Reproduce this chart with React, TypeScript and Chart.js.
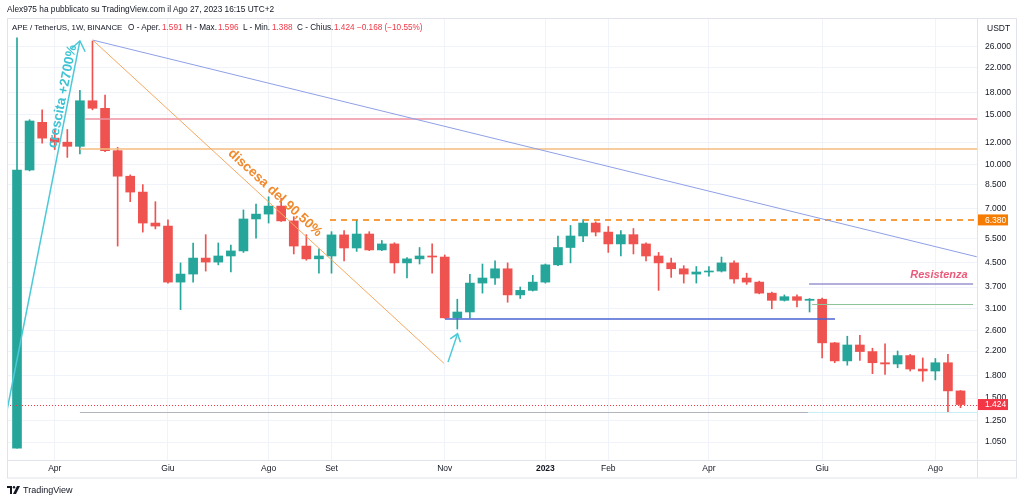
import React, { useEffect, useRef } from "react";
import { Chart, registerables } from "chart.js";

Chart.register(...registerables);

// ---- weekly candles APE/USDT (Mar 14 2022 -> Aug 21 2023) ----
const OPEN = [
  1.0, 9.57, 14.1, 12.4, 12.0, 11.6, 16.8, 15.8, 11.2, 9.1,
  8.0, 6.22, 6.07, 3.85, 4.11, 4.68, 4.53, 4.76, 4.96, 6.43,
  6.69, 7.14, 6.33, 5.16, 4.65, 4.76, 5.65, 5.08, 5.69, 5.0,
  5.25, 4.5, 4.65, 4.76, 4.72, 2.88, 3.02, 3.82, 3.98, 4.29,
  3.47, 3.6, 3.85, 4.43, 5.1, 5.6, 6.22, 5.78, 5.25, 5.66,
  5.25, 4.76, 4.5, 4.29, 4.11, 4.18, 4.21, 4.5, 3.98, 3.85,
  3.52, 3.32, 3.42, 3.32, 3.35, 2.35, 2.03, 2.31, 2.19, 2.0,
  1.98, 2.12, 1.9, 1.87, 2.0, 1.591,
];
const HIGH = [
  28.0, 14.4, 15.6, 13.2, 13.3, 18.3, 27.3, 17.6, 11.5, 9.2,
  8.5, 7.4, 6.38, 4.5, 5.29, 5.66, 5.29, 5.2, 6.92, 7.26,
  7.7, 7.6, 6.55, 5.66, 5.05, 5.8, 5.85, 6.38, 5.8, 5.4,
  5.3, 4.7, 5.1, 5.25, 4.8, 3.35, 4.1, 4.46, 4.58, 4.5,
  3.7, 4.07, 4.46, 5.6, 6.1, 6.4, 6.28, 6.05, 5.85, 5.95,
  5.3, 4.9, 4.68, 4.4, 4.37, 4.37, 4.72, 4.58, 4.14, 3.88,
  3.55, 3.47, 3.47, 3.37, 3.38, 2.36, 2.48, 2.5, 2.25, 2.33,
  2.2, 2.14, 2.08, 2.07, 2.14, 1.596,
];
const LOW = [
  1.0, 9.5, 11.9, 11.3, 10.6, 10.9, 15.6, 11.1, 5.16, 7.4,
  5.78, 5.93, 3.82, 3.08, 3.85, 4.21, 4.43, 4.18, 4.9, 5.5,
  6.22, 6.3, 4.84, 4.6, 4.14, 4.14, 4.57, 4.94, 4.97, 4.97,
  4.14, 3.98, 4.46, 4.14, 2.87, 2.63, 2.88, 3.52, 3.78, 3.27,
  3.37, 3.58, 3.82, 4.4, 4.5, 5.35, 5.6, 4.9, 4.76, 4.84,
  4.57, 3.6, 4.0, 3.82, 3.82, 4.04, 4.18, 3.82, 3.78, 3.5,
  3.1, 3.3, 3.15, 3.02, 2.08, 2.0, 1.96, 2.04, 1.83, 1.82,
  1.92, 1.87, 1.72, 1.74, 1.34, 1.388,
];
const CLOSE = [
  9.57, 14.25, 12.4, 12.0, 11.6, 16.8, 15.8, 11.2, 9.1, 8.0,
  6.22, 6.07, 3.85, 4.11, 4.68, 4.53, 4.76, 4.96, 6.43, 6.69,
  7.14, 6.33, 5.16, 4.65, 4.76, 5.65, 5.08, 5.69, 5.0, 5.25,
  4.5, 4.65, 4.76, 4.72, 2.88, 3.02, 3.82, 3.98, 4.29, 3.47,
  3.6, 3.85, 4.43, 5.1, 5.6, 6.22, 5.78, 5.25, 5.66, 5.25,
  4.76, 4.5, 4.29, 4.11, 4.18, 4.21, 4.5, 3.95, 3.85, 3.52,
  3.32, 3.42, 3.32, 3.35, 2.35, 2.03, 2.31, 2.19, 2.0, 1.98,
  2.12, 1.9, 1.87, 2.0, 1.591, 1.424,
];

const MONTH_IDX = [3, 12, 20, 25, 34, 42, 47, 55, 64, 73];
const MONTH_LABELS = ["Apr", "Giu", "Ago", "Set", "Nov", "2023", "Feb", "Apr", "Giu", "Ago"];
const Y_TICKS = [1.05, 1.25, 1.5, 1.8, 2.2, 2.6, 3.1, 3.7, 4.5, 5.5, 7, 8.5, 10, 12, 15, 18, 22, 26];

const X_MIN = -0.795;
const X_MAX = 76.31;
const Y_MIN = 0.9076;
const Y_MAX = 32.9;

// ---- drawings (in data units: week index, price) ----
// horizontal levels: [fromIndex, toIndex, price]
const LEVEL_RED = [5.41, X_MAX, 14.45];
const LEVEL_ORANGE = [5.0, X_MAX, 11.35];
const LEVEL_DASHED = [24.88, X_MAX, 6.38];
const LEVEL_SUPPORT = [34.02, 65.02, 2.85];
const LEVEL_RESIST = [62.96, 76.0, 3.79];
const LEVEL_GREEN = [63.2, 76.0, 3.22];
const LEVEL_GRAY = [5.0, 62.88, 1.34];
const LEVEL_GRAY_EXT = [62.88, X_MAX, 1.34];
const LEVEL_LAST = [X_MIN, X_MAX, 1.424];
// segments: [i1, p1, i2, p2]
const TREND_BLUE = [6.02, 27.5, 76.29, 4.73];
const TREND_ORANGE = [6.02, 27.5, 33.94, 1.99];
const ARROW_UP = [-0.82, 1.34, 5.0, 27.3];
const ARROW_SMALL = [34.26, 2.01, 35.02, 2.53];
// texts: [index, price]
const TXT_CRESCITA = [3.62, 17.4];
const TXT_DISCESA = [20.51, 7.94];
const TXT_RESIST = [75.57, 4.08];

const UP = "#26a69a";
const DOWN = "#ef5350";
const FONT = '"Liberation Sans", Arial, sans-serif';

const idx = OPEN.map((_, i) => i);
const candleColors = idx.map((i) => (CLOSE[i] >= OPEN[i] ? UP : DOWN));

const overlay = {
  id: "overlay",
  beforeDraw(chart: any) {
    const c = chart.ctx;
    c.save();
    c.fillStyle = "#ffffff";
    c.fillRect(0, 0, chart.width, chart.height);
    c.restore();
  },
  afterDatasetsDraw(chart: any) {
    const c = chart.ctx;
    const xs = chart.scales.x;
    const ys = chart.scales.y;
    const a = chart.chartArea;
    const X = (v: number) => xs.getPixelForValue(v);
    const Y = (v: number) => ys.getPixelForValue(v);
    c.save();
    c.beginPath();
    c.rect(a.left, a.top, a.right - a.left, a.bottom - a.top);
    c.clip();

    const hline = (l: number[], color: string, w: number, dash: number[] = []) => {
      c.beginPath();
      c.setLineDash(dash);
      c.strokeStyle = color;
      c.lineWidth = w;
      const y = Math.round(Y(l[2])) + (w === 1 ? 0.5 : 0);
      c.moveTo(X(l[0]), y);
      c.lineTo(X(l[1]), y);
      c.stroke();
      c.setLineDash([]);
    };
    const seg = (s: number[], color: string, w: number) => {
      c.beginPath();
      c.strokeStyle = color;
      c.lineWidth = w;
      c.moveTo(X(s[0]), Y(s[1]));
      c.lineTo(X(s[2]), Y(s[3]));
      c.stroke();
    };
    const head = (s: number[], color: string, w: number, len: number, spread: number) => {
      const x1 = X(s[0]), y1 = Y(s[1]), x2 = X(s[2]), y2 = Y(s[3]);
      const ang = Math.atan2(y2 - y1, x2 - x1);
      c.beginPath();
      c.strokeStyle = color;
      c.lineWidth = w;
      c.moveTo(x2 - len * Math.cos(ang - spread), y2 - len * Math.sin(ang - spread));
      c.lineTo(x2, y2);
      c.lineTo(x2 - len * Math.cos(ang + spread), y2 - len * Math.sin(ang + spread));
      c.stroke();
    };
    const angleOf = (s: number[]) => Math.atan2(Y(s[3]) - Y(s[1]), X(s[2]) - X(s[0]));
    const text = (t: string, p: number[], ang: number, font: string, color: string, align: CanvasTextAlign = "center") => {
      c.save();
      c.translate(X(p[0]), Y(p[1]));
      c.rotate(ang);
      c.font = font;
      c.fillStyle = color;
      c.textAlign = align;
      c.textBaseline = "middle";
      c.fillText(t, 0, 0);
      c.restore();
    };

    hline(LEVEL_LAST, "#f23645", 1, [1, 2]);
    hline(LEVEL_RED, "#ec93a3", 1.5);
    hline(LEVEL_ORANGE, "#f5bd80", 1.5);
    hline(LEVEL_DASHED, "#f57c00", 1.5, [6, 5]);
    hline(LEVEL_GRAY, "#b2b5be", 1);
    hline(LEVEL_GRAY_EXT, "#c9edf2", 1);
    hline(LEVEL_SUPPORT, "#4a63d3", 1.5);
    hline(LEVEL_RESIST, "#9a95d2", 1.5);
    hline(LEVEL_GREEN, "#8fc49b", 1);

    seg(TREND_BLUE, "#8fa0e6", 1);
    seg(TREND_ORANGE, "#f6a962", 1);
    seg(ARROW_UP, "#4cc9d8", 1.5);
    head(ARROW_UP, "#4cc9d8", 1.5, 12, 0.65);
    seg(ARROW_SMALL, "#4cc9d8", 1.5);
    head(ARROW_SMALL, "#4cc9d8", 1.5, 9, 0.65);

    text("crescita +2700%", TXT_CRESCITA, angleOf(ARROW_UP), `bold 13.5px ${FONT}`, "#3fc3d3");
    text("discesa del 90,50%", TXT_DISCESA, angleOf(TREND_ORANGE), `bold 13.5px ${FONT}`, "#f08a2c");
    text("Resistenza", TXT_RESIST, 0, `italic bold 11px ${FONT}`, "#ea5a7b", "right");
    c.restore();
  },
  afterDraw(chart: any) {
    const c = chart.ctx;
    const ys = chart.scales.y;
    const a = chart.chartArea;
    c.save();
    c.strokeStyle = "#e0e3eb";
    c.lineWidth = 1;
    c.strokeRect(7.5, 18.5, 1009, 459.5);
    c.beginPath();
    c.moveTo(Math.round(a.right) + 0.5, a.top);
    c.lineTo(Math.round(a.right) + 0.5, 478);
    c.moveTo(7, Math.round(a.bottom) + 0.5);
    c.lineTo(1017, Math.round(a.bottom) + 0.5);
    c.stroke();

    const box = (v: number, bg: string, label: string) => {
      const y = ys.getPixelForValue(v);
      c.fillStyle = bg;
      c.fillRect(a.right + 1, y - 5.5, 30, 11);
      c.fillStyle = "#ffffff";
      c.font = `8.5px ${FONT}`;
      c.textAlign = "left";
      c.textBaseline = "middle";
      c.fillText(label, a.right + 8, y + 0.5);
    };
    box(6.38, "#f57c00", "6.380");
    box(1.424, "#f23645", "1.424");
    c.restore();
  },
};

export default function App() {
  const ref = useRef<HTMLCanvasElement>(null);

  useEffect(() => {
    if (!ref.current) return;
    const chart = new Chart(ref.current, {
      type: "bar",
      data: {
        datasets: [
          {
            label: "body",
            data: idx.map((i) => ({ x: i, y: [OPEN[i], CLOSE[i]] })) as any,
            backgroundColor: candleColors,
            borderWidth: 0,
            barThickness: 9,
            minBarLength: 1,
            grouped: false,
            order: 1,
          } as any,
          {
            label: "wick",
            data: idx.map((i) => ({ x: i, y: [LOW[i], HIGH[i]] })) as any,
            backgroundColor: candleColors,
            borderWidth: 0,
            barThickness: 1,
            grouped: false,
            order: 2,
          } as any,
        ],
      },
      options: {
        animation: false,
        responsive: false,
        maintainAspectRatio: false,
        layout: { padding: { left: 7, top: 18, right: 7, bottom: 24 } },
        plugins: { legend: { display: false }, tooltip: { enabled: false } },
        scales: {
          x: {
            type: "linear",
            min: X_MIN,
            max: X_MAX,
            offset: false,
            afterBuildTicks: (s: any) => {
              s.ticks = MONTH_IDX.map((v) => ({ value: v }));
            },
            afterFit: (s: any) => {
              s.height = 18;
            },
            grid: { color: "#f0f3fa", drawTicks: false, offset: false },
            border: { display: false },
            ticks: {
              autoSkip: false,
              maxRotation: 0,
              padding: 4,
              color: "#131722",
              font: (ctx: any) => ({
                family: FONT,
                size: 8.5,
                weight: ctx.tick && ctx.tick.value === 42 ? "bold" : "normal",
              }),
              callback: (v: any) => {
                const k = MONTH_IDX.indexOf(Number(v));
                return k >= 0 ? MONTH_LABELS[k] : "";
              },
            },
          },
          y: {
            type: "logarithmic",
            position: "right",
            min: Y_MIN,
            max: Y_MAX,
            afterBuildTicks: (s: any) => {
              s.ticks = Y_TICKS.map((v) => ({ value: v }));
            },
            afterFit: (s: any) => {
              s.width = 40;
            },
            grid: { color: "#f0f3fa", drawTicks: false },
            border: { display: false },
            ticks: {
              padding: 8,
              color: "#131722",
              font: { family: FONT, size: 8.5 },
              callback: (v: any) => Number(v).toFixed(3),
            },
          },
        },
      } as any,
      plugins: [overlay],
    });
    return () => chart.destroy();
  }, []);

  const red = "#f23645";
  const abs = (left: number, top: number, extra: any = {}) => ({
    position: "absolute" as const,
    left,
    top,
    whiteSpace: "nowrap" as const,
    ...extra,
  });

  return (
    <div
      style={{
        position: "fixed",
        left: 0,
        top: 0,
        width: 1024,
        height: 502,
        background: "#ffffff",
        fontFamily: FONT,
        color: "#131722",
        overflow: "hidden",
      }}
    >
      <canvas ref={ref} width={1024} height={502} style={{ position: "absolute", left: 0, top: 0, width: 1024, height: 502 }} />
      <div style={abs(7, 4, { fontSize: 8.3 })}>Alex975 ha pubblicato su TradingView.com il Ago 27, 2023 16:15 UTC+2</div>
      <div style={{ position: "absolute", left: 0, top: 23, fontSize: 8.2, width: 500, height: 12 }}>
        <span style={abs(12, 0, { fontSize: 7.9 })}>APE / TetherUS, 1W, BINANCE</span>
        <span style={abs(128, 0)}>O - Aper.</span>
        <span style={abs(162, 0, { color: red })}>1.591</span>
        <span style={abs(186, 0)}>H - Max.</span>
        <span style={abs(218, 0, { color: red })}>1.596</span>
        <span style={abs(243, 0)}>L - Min.</span>
        <span style={abs(272, 0, { color: red })}>1.388</span>
        <span style={abs(297, 0)}>C - Chius.</span>
        <span style={abs(334, 0, { color: red })}>1.424</span>
        <span style={abs(357, 0, { color: red })}>−0.168 (−10.55%)</span>
      </div>
      <div style={abs(987, 23, { fontSize: 8.5 })}>USDT</div>
      <div style={abs(7, 485, { display: "flex", alignItems: "center", gap: 3 })}>
        <svg width="13" height="8" viewBox="0 0 13 8">
          <path d="M0 0 H5 V8 H3 V2 H0 Z" fill="#131722" />
          <circle cx="7" cy="1.2" r="1.2" fill="#131722" />
          <path d="M10 0 H13 L9 8 H6 Z" fill="#131722" />
        </svg>
        <span style={{ fontSize: 9 }}>TradingView</span>
      </div>
    </div>
  );
}
